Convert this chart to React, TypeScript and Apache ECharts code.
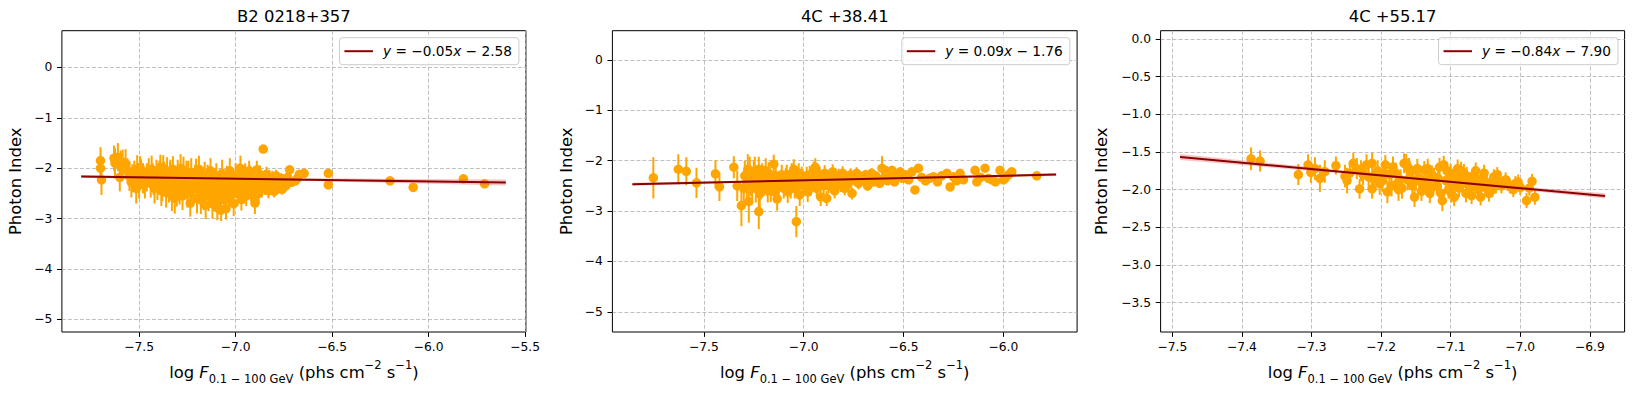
import React, { useEffect, useRef } from 'react';
import * as echarts from 'echarts';

// ---------------- data ----------------
const titles = ['B2 0218+357', '4C +38.41', '4C +55.17'];
const legendLabels = ['y = −0.05x − 2.58', 'y = 0.09x − 1.76', 'y = −0.84x − 7.90'];

const fitSlopes = [-0.054, 0.09, -0.845];
const fitIntercepts = [-2.584, -1.76, -7.895];
const fitXRanges = [[-7.80, -5.60], [-7.858, -5.736], [-7.489, -6.878]];
// confidence band half-width at a few x positions
const bandHalf1 = [[-7.8, 0.03], [-7.1, 0.01], [-5.6, 0.06]];
const bandHalf2 = [[-7.858, 0.03], [-6.8, 0.01], [-5.736, 0.03]];
const bandHalf3 = [[-7.489, 0.04], [-7.12, 0.01], [-6.878, 0.035]];

const xAxisRanges = [[-7.90, -5.496], [-7.958, -5.631], [-7.517, -6.850]];
const yAxisRanges = [[-5.25, 0.73], [-5.40, 0.58], [-3.89, 0.11]];
const xTicks1 = [-7.5, -7.0, -6.5, -6.0, -5.5];
const xTicks2 = [-7.5, -7.0, -6.5, -6.0];
const xTicks3 = [-7.5, -7.4, -7.3, -7.2, -7.1, -7.0, -6.9];
const yTicks1 = [0, -1, -2, -3, -4, -5];
const yTicks2 = [0, -1, -2, -3, -4, -5];
const yTicks3 = [0, -0.5, -1.0, -1.5, -2.0, -2.5, -3.0, -3.5];
const xDecimals = [1, 1, 1];
const yDecimals = [0, 0, 1];

// [log flux, photon index, error]
const points1 = [
  [-7.70, -1.85, 0.27], [-7.70, -2.00, 0.25], [-7.695, -2.23, 0.3],
  [-7.63, -1.80, 0.25], [-7.625, -1.90, 0.3], [-7.61, -1.78, 0.28], [-7.60, -2.18, 0.28], [-7.595, -1.95, 0.3], [-7.585, -1.88, 0.25],
  [-7.56, -2.05, 0.25], [-7.55, -2.15, 0.3], [-7.54, -2.28, 0.3], [-7.525, -2.10, 0.25], [-7.51, -2.02, 0.28], [-7.50, -2.33, 0.27], [-7.495, -1.98, 0.22], [-7.48, -2.20, 0.3],
  [-7.45, -2.05, 0.25], [-7.44, -2.30, 0.28], [-7.43, -2.15, 0.25], [-7.42, -2.40, 0.3], [-7.41, -2.08, 0.25], [-7.40, -2.22, 0.27], [-7.39, -1.98, 0.25], [-7.38, -2.35, 0.3], [-7.37, -2.12, 0.25], [-7.36, -2.48, 0.3], [-7.355, -2.05, 0.27], [-7.35, -2.25, 0.25], [-7.34, -2.18, 0.3], [-7.33, -2.55, 0.3], [-7.325, -2.02, 0.26], [-7.315, -2.60, 0.3], [-7.31, -2.30, 0.25], [-7.30, -2.10, 0.27], [-7.29, -2.42, 0.3], [-7.28, -2.20, 0.25], [-7.27, -2.05, 0.28], [-7.265, -2.35, 0.27], [-7.255, -2.15, 0.3], [-7.25, -2.50, 0.28], [-7.24, -2.28, 0.25], [-7.235, -2.69, 0.27], [-7.23, -2.08, 0.28], [-7.22, -2.40, 0.3], [-7.21, -2.18, 0.25], [-7.20, -2.60, 0.3], [-7.195, -2.30, 0.25], [-7.19, -2.02, 0.27], [-7.18, -2.63, 0.28], [-7.175, -2.45, 0.3], [-7.17, -2.22, 0.25], [-7.16, -2.12, 0.25], [-7.155, -2.73, 0.28], [-7.15, -2.35, 0.28], [-7.14, -2.55, 0.3], [-7.13, -2.05, 0.25], [-7.125, -2.25, 0.27], [-7.12, -2.70, 0.3], [-7.11, -2.40, 0.25], [-7.10, -2.15, 0.25], [-7.095, -2.78, 0.25], [-7.09, -2.50, 0.27], [-7.08, -2.30, 0.25], [-7.075, -2.83, 0.22], [-7.07, -2.10, 0.27], [-7.06, -2.60, 0.25], [-7.05, -2.80, 0.22], [-7.045, -2.20, 0.25], [-7.04, -2.45, 0.25], [-7.03, -2.05, 0.25], [-7.02, -2.35, 0.28], [-7.01, -2.70, 0.25], [-7.00, -2.15, 0.25],
  [-6.99, -2.50, 0.25], [-6.98, -2.28, 0.22], [-6.975, -2.00, 0.25], [-6.97, -2.62, 0.22], [-6.96, -2.40, 0.25], [-6.95, -2.10, 0.2], [-6.945, -2.55, 0.2], [-6.94, -2.30, 0.22], [-6.93, -2.05, 0.2], [-6.92, -2.45, 0.2], [-6.915, -2.20, 0.2], [-6.90, -2.69, 0.22], [-6.895, -2.35, 0.2], [-6.89, -2.03, 0.18], [-6.88, -2.50, 0.2], [-6.87, -2.25, 0.18], [-6.857, -1.62, 0.05], [-6.85, -2.38, 0.15], [-6.84, -2.12, 0.15], [-6.83, -2.45, 0.15], [-6.82, -2.33, 0.15], [-6.81, -2.20, 0.15], [-6.80, -2.46, 0.12], [-6.79, -2.15, 0.12], [-6.78, -2.38, 0.12], [-6.77, -2.30, 0.12], [-6.76, -2.42, 0.1], [-6.75, -2.22, 0.1], [-6.74, -2.35, 0.1], [-6.73, -2.18, 0.1], [-6.72, -2.03, 0.08], [-6.71, -2.28, 0.08], [-6.69, -2.25, 0.08], [-6.68, -2.20, 0.08], [-6.67, -2.12, 0.07], [-6.645, -2.10, 0.06],
  [-6.52, -2.10, 0.05], [-6.52, -2.33, 0.05], [-6.20, -2.25, 0.04], [-6.08, -2.38, 0.04], [-5.82, -2.21, 0.04], [-5.71, -2.31, 0.04],
  [-7.46, -2.18, 0.28], [-7.435, -2.02, 0.27], [-7.425, -2.26, 0.27], [-7.405, -2.35, 0.28], [-7.395, -2.12, 0.27], [-7.385, -2.45, 0.3], [-7.375, -2.00, 0.26], [-7.365, -2.28, 0.28], [-7.345, -2.40, 0.28], [-7.338, -2.10, 0.27], [-7.32, -2.32, 0.28], [-7.305, -2.48, 0.28], [-7.295, -2.25, 0.27], [-7.285, -2.00, 0.28], [-7.275, -2.55, 0.28], [-7.26, -2.28, 0.27], [-7.245, -2.12, 0.27], [-7.228, -2.45, 0.28], [-7.215, -2.30, 0.27], [-7.205, -2.08, 0.27], [-7.185, -2.38, 0.28], [-7.165, -2.55, 0.28], [-7.145, -2.20, 0.27], [-7.135, -2.42, 0.28], [-7.118, -2.58, 0.28], [-7.105, -2.28, 0.27], [-7.085, -2.65, 0.27], [-7.065, -2.35, 0.26], [-7.055, -2.48, 0.26], [-7.035, -2.60, 0.26], [-7.025, -2.25, 0.26], [-7.015, -2.50, 0.26], [-6.995, -2.35, 0.24], [-6.985, -2.15, 0.24], [-6.965, -2.25, 0.22], [-6.955, -2.48, 0.22], [-6.935, -2.40, 0.2], [-6.925, -2.15, 0.2], [-6.905, -2.55, 0.2], [-6.885, -2.42, 0.2], [-6.875, -2.12, 0.18], [-6.865, -2.40, 0.18], [-6.845, -2.28, 0.15], [-6.825, -2.18, 0.15], [-6.805, -2.35, 0.14], [-6.785, -2.25, 0.12], [-6.765, -2.20, 0.1], [-7.57, -1.92, 0.3], [-7.535, -2.20, 0.28], [-7.515, -2.40, 0.3], [-7.49, -2.10, 0.28], [-7.47, -2.30, 0.3],
];

const points2 = [
  [-7.753, -2.34, 0.41], [-7.628, -2.17, 0.3], [-7.588, -2.21, 0.28], [-7.537, -2.44, 0.3], [-7.442, -2.26, 0.27], [-7.422, -2.52, 0.28], [-7.35, -2.13, 0.22], [-7.333, -2.50, 0.3], [-7.312, -2.89, 0.41], [-7.30, -2.55, 0.35], [-7.28, -2.17, 0.3], [-7.275, -2.81, 0.42], [-7.265, -2.40, 0.3], [-7.25, -2.30, 0.3], [-7.24, -2.55, 0.28], [-7.225, -3.01, 0.35], [-7.225, -2.17, 0.25], [-7.22, -2.66, 0.3], [-7.208, -2.30, 0.25], [-7.20, -2.45, 0.25], [-7.19, -2.20, 0.25], [-7.18, -2.58, 0.25], [-7.17, -2.35, 0.22], [-7.16, -2.48, 0.22], [-7.15, -2.07, 0.19], [-7.145, -2.62, 0.22], [-7.133, -2.76, 0.23], [-7.12, -2.40, 0.2], [-7.11, -2.28, 0.2], [-7.10, -2.55, 0.2], [-7.09, -2.35, 0.2], [-7.08, -2.62, 0.22], [-7.07, -2.45, 0.2], [-7.06, -2.25, 0.2], [-7.05, -2.17, 0.2], [-7.045, -2.55, 0.2], [-7.037, -3.21, 0.31], [-7.03, -2.38, 0.2], [-7.02, -2.68, 0.22], [-7.01, -2.30, 0.18], [-7.00, -2.50, 0.2],
  [-6.99, -2.40, 0.18], [-6.98, -2.62, 0.2], [-6.97, -2.28, 0.18], [-6.96, -2.45, 0.18], [-6.95, -2.20, 0.18], [-6.942, -2.13, 0.18], [-6.935, -2.55, 0.18], [-6.925, -2.35, 0.16], [-6.915, -2.72, 0.18], [-6.905, -2.42, 0.16], [-6.895, -2.25, 0.16], [-6.885, -2.75, 0.15], [-6.875, -2.50, 0.15], [-6.865, -2.32, 0.15], [-6.855, -2.22, 0.15], [-6.845, -2.60, 0.15], [-6.835, -2.40, 0.14], [-6.825, -2.30, 0.14], [-6.815, -2.48, 0.14], [-6.805, -2.25, 0.14], [-6.795, -2.55, 0.14], [-6.785, -2.35, 0.13], [-6.775, -2.42, 0.13], [-6.765, -2.28, 0.13], [-6.758, -2.65, 0.12], [-6.745, -2.38, 0.12], [-6.735, -2.25, 0.12], [-6.725, -2.45, 0.12], [-6.715, -2.32, 0.1], [-6.70, -2.40, 0.1], [-6.69, -2.28, 0.1], [-6.68, -2.50, 0.1], [-6.67, -2.35, 0.1], [-6.66, -2.25, 0.1], [-6.65, -2.42, 0.09], [-6.64, -2.30, 0.09], [-6.63, -2.38, 0.08], [-6.62, -2.45, 0.08], [-6.608, -2.15, 0.24], [-6.60, -2.35, 0.08],
  [-6.592, -2.19, 0.06], [-6.58, -2.40, 0.06], [-6.57, -2.30, 0.06], [-6.558, -2.19, 0.05], [-6.545, -2.42, 0.05], [-6.53, -2.32, 0.05], [-6.517, -2.22, 0.05], [-6.505, -2.35, 0.05], [-6.49, -2.28, 0.05], [-6.475, -2.38, 0.05], [-6.458, -2.22, 0.05], [-6.443, -2.58, 0.05], [-6.425, -2.15, 0.05], [-6.41, -2.33, 0.05], [-6.39, -2.40, 0.05], [-6.37, -2.35, 0.05], [-6.35, -2.32, 0.05], [-6.33, -2.42, 0.05], [-6.31, -2.30, 0.05], [-6.283, -2.25, 0.05], [-6.267, -2.52, 0.05], [-6.25, -2.32, 0.05], [-6.235, -2.40, 0.05], [-6.217, -2.25, 0.05], [-6.20, -2.38, 0.05], [-6.142, -2.19, 0.05], [-6.133, -2.42, 0.05], [-6.115, -2.33, 0.05], [-6.092, -2.15, 0.05], [-6.075, -2.35, 0.05], [-6.058, -2.38, 0.05], [-6.04, -2.42, 0.05], [-6.017, -2.19, 0.05], [-6.00, -2.38, 0.05], [-5.992, -2.35, 0.05], [-5.975, -2.28, 0.05], [-5.958, -2.22, 0.05], [-5.833, -2.30, 0.05],
  [-7.295, -2.30, 0.3], [-7.285, -2.45, 0.3], [-7.27, -2.22, 0.3], [-7.258, -2.50, 0.28], [-7.245, -2.20, 0.28], [-7.235, -2.42, 0.28], [-7.215, -2.52, 0.25], [-7.198, -2.35, 0.25], [-7.185, -2.45, 0.25], [-7.175, -2.25, 0.22], [-7.165, -2.60, 0.22], [-7.14, -2.30, 0.22], [-7.125, -2.50, 0.2], [-7.105, -2.42, 0.2], [-7.085, -2.28, 0.2], [-7.065, -2.55, 0.2], [-7.055, -2.35, 0.2], [-7.025, -2.25, 0.2], [-7.005, -2.42, 0.2], [-6.985, -2.30, 0.18], [-6.965, -2.52, 0.18], [-6.945, -2.38, 0.18], [-6.92, -2.28, 0.16], [-6.90, -2.50, 0.16], [-6.88, -2.35, 0.15], [-6.86, -2.45, 0.15], [-6.84, -2.30, 0.14], [-6.82, -2.40, 0.14], [-6.80, -2.32, 0.14], [-6.78, -2.48, 0.13], [-6.76, -2.36, 0.13], [-6.74, -2.30, 0.12], [-6.72, -2.38, 0.12],
];

const points3 = [
  [-7.387, -1.59, 0.15], [-7.374, -1.62, 0.14], [-7.319, -1.80, 0.14], [-7.305, -1.67, 0.14], [-7.301, -1.77, 0.14], [-7.295, -1.72, 0.15], [-7.288, -1.85, 0.18], [-7.281, -1.76, 0.15], [-7.265, -1.68, 0.12], [-7.252, -1.82, 0.15], [-7.249, -1.88, 0.17], [-7.24, -1.65, 0.14], [-7.235, -1.72, 0.14], [-7.231, -1.99, 0.13], [-7.226, -1.80, 0.14], [-7.221, -1.67, 0.14], [-7.218, -1.83, 0.14], [-7.213, -1.65, 0.14], [-7.213, -1.99, 0.13], [-7.205, -1.75, 0.14], [-7.198, -1.88, 0.15], [-7.194, -1.67, 0.13], [-7.191, -2.03, 0.15], [-7.188, -1.80, 0.15], [-7.185, -1.95, 0.14], [-7.179, -1.78, 0.14], [-7.175, -2.00, 0.15], [-7.172, -1.87, 0.14], [-7.167, -1.65, 0.13], [-7.164, -1.645, 0.12], [-7.162, -1.87, 0.14], [-7.158, -1.78, 0.13], [-7.155, -1.95, 0.14], [-7.152, -2.10, 0.13], [-7.148, -1.72, 0.13], [-7.145, -1.85, 0.13], [-7.142, -2.02, 0.13], [-7.138, -1.74, 0.12], [-7.135, -1.90, 0.12], [-7.13, -2.05, 0.13], [-7.127, -1.80, 0.12], [-7.124, -1.83, 0.12], [-7.12, -1.95, 0.12], [-7.116, -1.70, 0.12], [-7.112, -2.145, 0.14], [-7.11, -1.67, 0.12], [-7.107, -1.88, 0.12], [-7.103, -2.00, 0.12], [-7.10, -1.78, 0.12], [-7.097, -1.92, 0.12], [-7.095, -2.10, 0.12], [-7.092, -1.85, 0.12], [-7.088, -1.98, 0.12], [-7.085, -1.75, 0.12], [-7.081, -1.78, 0.12], [-7.078, -2.05, 0.12], [-7.075, -1.88, 0.11], [-7.072, -1.95, 0.11], [-7.069, -1.96, 0.11], [-7.066, -1.80, 0.11], [-7.062, -1.90, 0.11], [-7.057, -2.10, 0.11], [-7.054, -1.85, 0.11], [-7.05, -1.97, 0.11], [-7.045, -2.05, 0.11], [-7.042, -1.90, 0.1], [-7.038, -1.83, 0.1], [-7.035, -1.95, 0.1], [-7.03, -1.88, 0.1], [-7.021, -1.87, 0.1], [-7.015, -1.95, 0.1], [-7.007, -1.92, 0.1], [-7.00, -1.97, 0.1], [-6.991, -2.145, 0.1], [-6.987, -1.98, 0.1], [-6.983, -1.89, 0.1], [-6.979, -2.10, 0.1],
  [-7.202, -1.92, 0.15], [-7.196, -1.78, 0.15], [-7.183, -1.70, 0.14], [-7.177, -1.92, 0.14], [-7.17, -1.98, 0.14], [-7.16, -1.72, 0.14], [-7.15, -1.88, 0.13], [-7.14, -1.95, 0.13], [-7.133, -1.72, 0.13], [-7.128, -1.98, 0.13], [-7.118, -1.85, 0.12], [-7.114, -2.05, 0.13], [-7.105, -1.75, 0.12], [-7.099, -2.05, 0.12], [-7.09, -1.72, 0.12], [-7.083, -1.92, 0.12], [-7.077, -1.82, 0.12], [-7.07, -2.08, 0.11], [-7.064, -1.75, 0.11], [-7.06, -2.00, 0.11], [-7.052, -1.78, 0.11], [-7.048, -1.92, 0.11], [-7.04, -2.00, 0.1], [-7.033, -1.80, 0.1], [-7.027, -1.95, 0.1], [-7.018, -1.92, 0.1], [-7.01, -2.00, 0.1], [-7.003, -1.90, 0.1], [-7.245, -1.78, 0.14], [-7.229, -1.75, 0.14], [-7.21, -1.87, 0.14],
];

// ---------------- styling ----------------
const FONT = 'DejaVu Sans';
const ORANGE = '#FFA500';
const DARKRED = '#8B0000';
const PLOT_TOP = 30.7;
const PLOT_H = 301.3;
const gridBoxes = [
  { left: 61.9, width: 464 },
  { left: 612.4, width: 464.7 },
  { left: 1160.6, width: 464 },
];
const yNameGaps = [38, 38, 51];
const legendRights = [1116.1, 565.2, 17];

const pointsAll = [points1, points2, points3];
const bandsAll = [bandHalf1, bandHalf2, bandHalf3];
const xTicksAll = [xTicks1, xTicks2, xTicks3];
const yTicksAll = [yTicks1, yTicks2, yTicks3];

const fmt = (d: number) => (v: number) => {
  const s = Math.abs(v).toFixed(d);
  return (v < -1e-9 ? '\u2212' : '') + s;
};

const legendRich = (label: string) =>
  label
    .split('')
    .map((c) => (c === 'x' || c === 'y' ? `{i|${c}}` : `{n|${c}}`))
    .join('');

function buildOption() {
  const grid: any[] = [];
  const xAxis: any[] = [];
  const yAxis: any[] = [];
  const series: any[] = [];
  const legend: any[] = [];
  const graphic: any[] = [];

  for (let i = 0; i < 3; i++) {
    grid.push({
      left: gridBoxes[i].left,
      width: gridBoxes[i].width,
      top: PLOT_TOP,
      height: PLOT_H,
      show: true,
      borderColor: '#000',
      borderWidth: 1,
      backgroundColor: 'transparent',
      containLabel: false,
      outerBoundsMode: 'none',
    });
    xAxis.push({
      type: 'value',
      gridIndex: i,
      position: 'bottom',
      min: xAxisRanges[i][0],
      max: xAxisRanges[i][1],
      axisLine: { show: false, onZero: false },
      axisTick: { show: true, inside: false, length: 4.9, customValues: xTicksAll[i], lineStyle: { color: '#000', width: 1 } },
      axisLabel: {
        show: true,
        customValues: xTicksAll[i],
        formatter: fmt(xDecimals[i]),
        fontFamily: FONT,
        fontSize: 12.3,
        color: '#000',
        margin: 9,
        hideOverlap: false,
      },
      splitLine: { show: true, lineStyle: { color: '#b0b0b0', width: 0.8, type: [4, 2] } },
      name: '{n|log }{i|F}{s|0.1 − 100 GeV}{n| (phs cm}{p|−2}{n| s}{p|−1}{n|)}',
      nameLocation: 'middle',
      nameGap: 27,
      nameTextStyle: {
        fontFamily: FONT,
        fontSize: 16.4,
        color: '#000',
        lineHeight: 26,
        rich: {
          n: { fontFamily: FONT, fontSize: 16.4, lineHeight: 26, color: '#000' },
          i: { fontFamily: FONT, fontSize: 16.4, lineHeight: 26, fontStyle: 'italic', color: '#000' },
          s: { fontFamily: FONT, fontSize: 11.5, lineHeight: 16, verticalAlign: 'bottom', color: '#000' },
          p: { fontFamily: FONT, fontSize: 11.5, lineHeight: 17, verticalAlign: 'top', color: '#000' },
        },
      },
    });
    yAxis.push({
      type: 'value',
      gridIndex: i,
      position: 'left',
      min: yAxisRanges[i][0],
      max: yAxisRanges[i][1],
      axisLine: { show: false, onZero: false },
      axisTick: { show: true, inside: false, length: 4.9, customValues: yTicksAll[i], lineStyle: { color: '#000', width: 1 } },
      axisLabel: {
        show: true,
        customValues: yTicksAll[i],
        formatter: fmt(yDecimals[i]),
        fontFamily: FONT,
        fontSize: 12.3,
        color: '#000',
        margin: 9.5,
        hideOverlap: false,
      },
      splitLine: { show: true, lineStyle: { color: '#b0b0b0', width: 0.8, type: [4, 2] } },
      name: 'Photon Index',
      nameLocation: 'middle',
      nameGap: yNameGaps[i],
      nameTextStyle: { fontFamily: FONT, fontSize: 16.4, color: '#000' },
    });

    const pts = pointsAll[i];
    // error bars
    series.push({
      type: 'custom',
      xAxisIndex: i,
      yAxisIndex: i,
      data: pts,
      encode: { x: 0, y: 1 },
      silent: true,
      z: 2,
      renderItem: (params: any, api: any) => {
        const x = api.value(0);
        const y = api.value(1);
        const e = api.value(2);
        const p1 = api.coord([x, y + e]);
        const p2 = api.coord([x, y - e]);
        return {
          type: 'line',
          shape: { x1: p1[0], y1: p1[1], x2: p2[0], y2: p2[1] },
          style: { stroke: ORANGE, lineWidth: 2 },
        };
      },
    });
    // markers
    series.push({
      type: 'scatter',
      xAxisIndex: i,
      yAxisIndex: i,
      data: pts.map((p) => [p[0], p[1]]),
      symbol: 'circle',
      symbolSize: 9.5,
      itemStyle: { color: ORANGE, opacity: 1 },
      silent: true,
      z: 2,
    });
    // confidence band
    const a = fitSlopes[i];
    const b = fitIntercepts[i];
    const band = bandsAll[i];
    series.push({
      type: 'custom',
      xAxisIndex: i,
      yAxisIndex: i,
      data: [[band[0][0], a * band[0][0] + b]],
      encode: { x: 0, y: 1 },
      silent: true,
      z: 3,
      renderItem: (params: any, api: any) => {
        const upper = band.map((q) => api.coord([q[0], a * q[0] + b + q[1]]));
        const lower = band
          .slice()
          .reverse()
          .map((q) => api.coord([q[0], a * q[0] + b - q[1]]));
        return {
          type: 'polygon',
          shape: { points: upper.concat(lower) },
          style: { fill: 'rgba(235,90,90,0.35)', stroke: 'none' },
        };
      },
    });
    // fit line
    const xr = fitXRanges[i];
    series.push({
      type: 'line',
      name: legendLabels[i],
      xAxisIndex: i,
      yAxisIndex: i,
      data: xr.map((x) => [x, a * x + b]),
      symbol: 'none',
      color: DARKRED,
      lineStyle: { color: DARKRED, width: 2 },
      itemStyle: { color: DARKRED },
      silent: true,
      z: 4,
    });

    legend.push({
      data: [legendLabels[i]],
      right: legendRights[i],
      top: 37.7,
      orient: 'horizontal',
      icon: 'rect',
      itemWidth: 28.5,
      itemHeight: 2,
      padding: [5, 7, 5, 5],
      backgroundColor: 'rgba(255,255,255,0.8)',
      borderColor: '#cccccc',
      borderWidth: 1,
      borderRadius: 3,
      selectedMode: false,
      formatter: (name: string) => '{sp|}' + legendRich(name),
      textStyle: {
        fontFamily: FONT,
        fontSize: 13.7,
        color: '#000',
        lineHeight: 17,
        rich: {
          sp: { width: 5, lineHeight: 17 },
          n: { fontFamily: FONT, fontSize: 13.7, color: '#000', lineHeight: 17 },
          i: { fontFamily: FONT, fontSize: 13.7, color: '#000', lineHeight: 17, fontStyle: 'italic' },
        },
      },
    });

    graphic.push({
      type: 'text',
      x: gridBoxes[i].left + gridBoxes[i].width / 2,
      y: 16.5,
      style: {
        text: titles[i],
        font: `16.4px "${FONT}"`,
        fill: '#000',
        textAlign: 'center',
        textVerticalAlign: 'middle',
      },
    });
  }

  return {
    animation: false,
    backgroundColor: '#ffffff',
    textStyle: { fontFamily: FONT },
    grid,
    xAxis,
    yAxis,
    series,
    legend,
    graphic,
  };
}

export default function App() {
  const ref = useRef<HTMLDivElement>(null);
  useEffect(() => {
    if (!ref.current) return;
    const chart = echarts.init(ref.current, null, { renderer: 'svg' });
    chart.setOption(buildOption() as any);
    return () => {
      chart.dispose();
    };
  }, []);
  return (
    <div
      ref={ref}
      style={{ position: 'fixed', left: 0, top: 0, width: 1635, height: 394, background: '#fff' }}
    />
  );
}
